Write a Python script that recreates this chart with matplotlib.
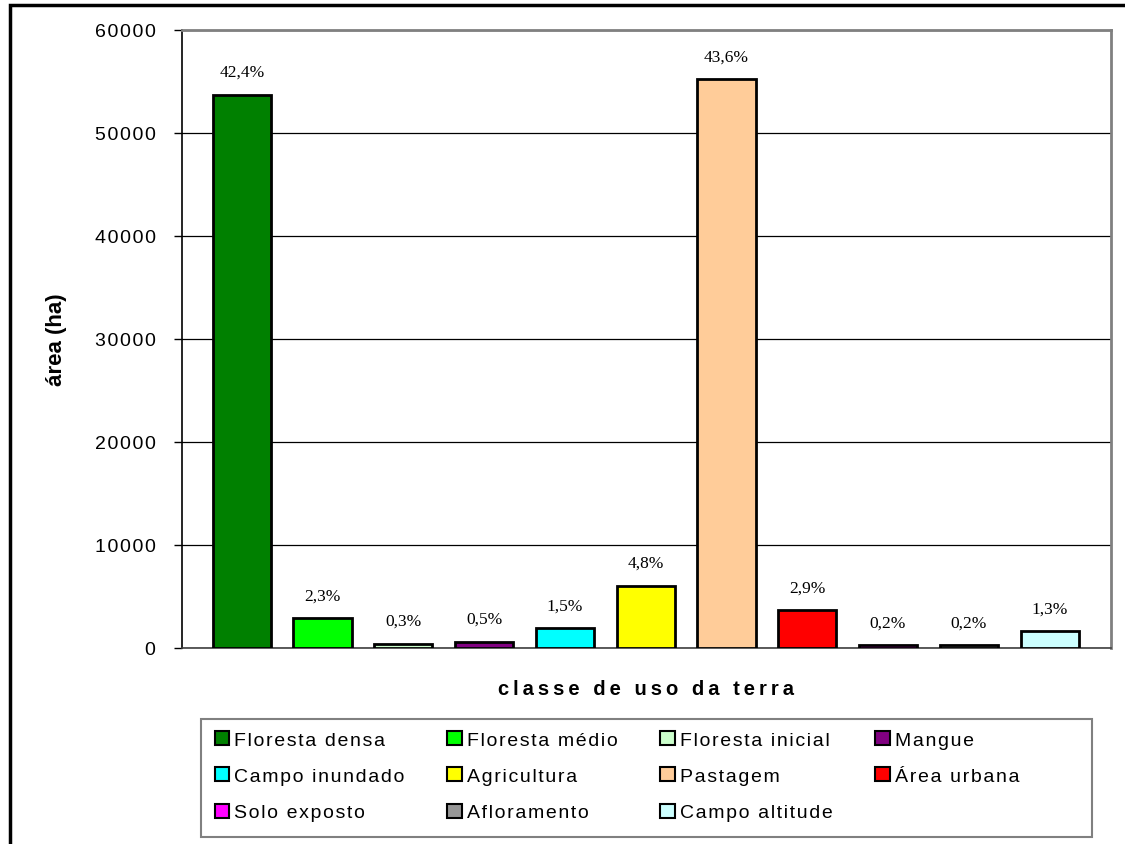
import numpy as np
import matplotlib.pyplot as plt
from matplotlib.patches import Patch, Rectangle

# land use classes, area (ha) and percent labels
classes = ["Floresta densa", "Floresta médio", "Floresta inicial", "Mangue",
           "Campo inundado", "Agricultura", "Pastagem", "Área urbana",
           "Solo exposto", "Afloramento", "Campo altitude"]
area = [53700, 2900, 420, 620, 1930, 6050, 55200, 3680, 260, 250, 1630]
pct_labels = ["42,4%", "2,3%", "0,3%", "0,5%", "1,5%", "4,8%",
              "43,6%", "2,9%", "0,2%", "0,2%", "1,3%"]
colors = ["#008000", "#00ff00", "#ccffcc", "#800080", "#00ffff", "#ffff00",
          "#ffcc99", "#ff0000", "#ff00ff", "#969696", "#ccffff"]
yticks = [0, 10000, 20000, 30000, 40000, 50000, 60000]

plt.rcParams["font.family"] = ["Liberation Sans", "DejaVu Sans"]


def spaced(s, gap="\u200a"):
    # the old Excel rendering has wide letter spacing, imitate with small spaces
    return gap.join(s)


W, H = 1125, 845
fig = plt.figure(figsize=(W / 100, H / 100), dpi=100)
ax = fig.add_axes([182 / W, 1 - 649 / H, (1111 - 182) / W, (649 - 31) / H])

x = np.arange(len(classes))
ax.bar(x, area, width=0.72, color=colors, edgecolor="black", linewidth=2, zorder=3)

for xi, v, lab in zip(x, area, pct_labels):
    ax.annotate(lab, (xi, v), xytext=(0, 16.5), textcoords="offset points",
                ha="center", va="center", fontsize=12.5,
                family=["Liberation Serif", "DejaVu Serif"])

ax.set_xlim(-0.74, len(classes) - 0.24)
ax.set_ylim(0, 60000)
ax.set_yticks(yticks)
ax.set_yticklabels([spaced(str(t)) for t in yticks], fontsize=14)
ax.set_xticks([])
ax.tick_params(axis="y", direction="out", length=6, width=1, pad=13)
ax.yaxis.grid(True, color="black", linewidth=0.9, zorder=0)
ax.set_axisbelow(True)

for side in ["top", "right"]:
    ax.spines[side].set_color("#808080")
    ax.spines[side].set_linewidth(2)
ax.spines["left"].set_color("black")
ax.spines["bottom"].set_color("#404040")
ax.spines["left"].set_linewidth(1.2)
ax.spines["bottom"].set_linewidth(1.2)

ax.set_ylabel("área (ha)", fontsize=16, fontweight="bold", labelpad=20)
ax.set_xlabel(spaced("classe de uso da terra", "\u2009"), fontsize=14.5,
              fontweight="bold", labelpad=22)

# legend placed in the box under the chart, filled row by row
handles = [Patch(facecolor=c, edgecolor="black", linewidth=1.5) for c in colors]
order = [0, 4, 8, 1, 5, 9, 2, 6, 10, 3, 7]
leg = fig.legend([handles[i] for i in order], [spaced(classes[i]) for i in order],
                 ncol=4, loc="upper left", bbox_to_anchor=(209 / W, 1 - 726 / H),
                 fontsize=14, handlelength=0.75, handleheight=0.75,
                 handletextpad=0.25, labelspacing=0.95, columnspacing=2.2,
                 borderpad=0.3, borderaxespad=0, frameon=False)
fig.patches.append(Rectangle((201 / W, 1 - 838 / H), (1092 - 201) / W, (838 - 720) / H,
                             transform=fig.transFigure, fill=False,
                             edgecolor="#808080", linewidth=1.5))

# outer chart border, cut off at right and bottom
fig.patches.append(Rectangle((9.5 / W, -0.1), 1.2, 1 - 6 / H + 0.1,
                             transform=fig.transFigure, fill=False,
                             edgecolor="black", linewidth=2.5))

fig.savefig("out.png", dpi=100)
